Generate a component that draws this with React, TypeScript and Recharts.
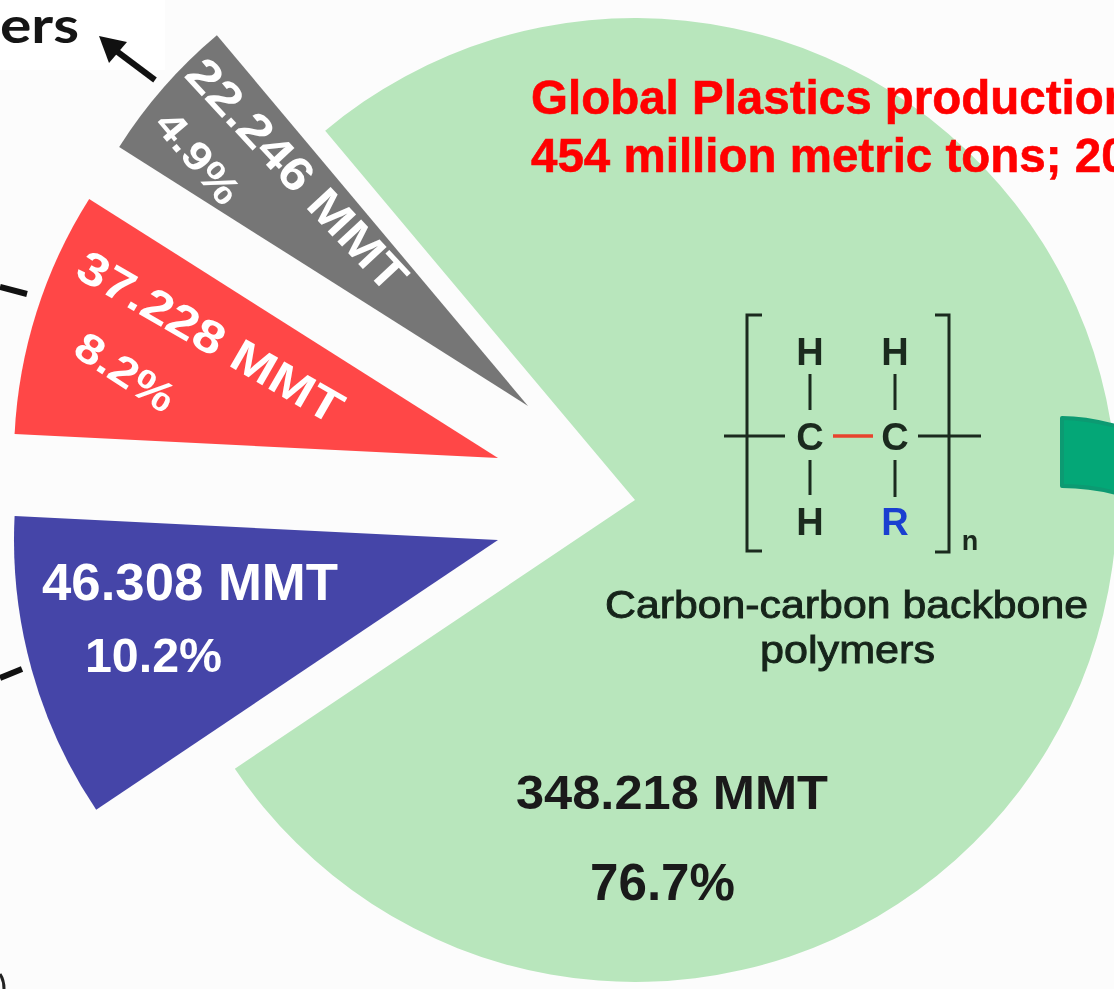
import React from "react";
import { PieChart, Pie, Cell } from "recharts";

const categories = ["Carbon-carbon backbone polymers", "Blue group", "Red group", "Gray group"];
const valuesMMT = [348.218, 46.308, 37.228, 22.246];
const valueLabels = ["348.218 MMT", "46.308 MMT", "37.228 MMT", "22.246 MMT"];
const percentLabels = ["76.7%", "10.2%", "8.2%", "4.9%"];
const colors = ["#B8E6BC", "#4545A8", "#FF4747", "#767676"];
const centers = [
  [635, 500],
  [498, 540],
  [498, 458],
  [528, 406],
];
const radii = [482, 484, 484, 484];
const titleLines = ["Global Plastics production", "454 million metric tons; 20"];

const total = valuesMMT.reduce((a, b) => a + b, 0);
const START = 130;
const sans = "'Liberation Sans', Arial, sans-serif";

let cursor = START;
const spans = valuesMMT.map((v) => {
  const s = cursor;
  cursor -= (v / total) * 360;
  return [s, cursor];
});

const Rotated = ({ x, y, a, size, len, children }: any) => (
  <text
    transform={`translate(${x} ${y}) rotate(${a})`}
    fontFamily={sans}
    fontWeight="bold"
    fontSize={size}
    fill="#FFFFFF"
    textLength={len}
    lengthAdjust="spacingAndGlyphs"
  >
    {children}
  </text>
);

const Chem = ({ x, y, children, fill = "#1B2A1E" }: any) => (
  <text x={x} y={y} textAnchor="middle" fontFamily={sans} fontWeight="bold" fontSize={38} fill={fill}>
    {children}
  </text>
);

export default function App() {
  const ink = "#1B2A1E";
  return (
    <div style={{ position: "absolute", left: 0, top: 0, width: 1114, height: 989, background: "#FCFCFC", overflow: "hidden" }}>
      <svg width={1114} height={989} style={{ position: "absolute", left: 0, top: 0 }}>
        <rect x={0} y={0} width={165} height={70} fill="#FFFFFF" />
      </svg>
      <div style={{ position: "absolute", left: 0, top: 0 }}>
        <PieChart width={1114} height={989} margin={{ top: 0, right: 0, bottom: 0, left: 0 }}>
          {valuesMMT.map((v, i) => (
            <Pie
              key={categories[i]}
              data={[{ name: categories[i], value: v }]}
              dataKey="value"
              nameKey="name"
              cx={centers[i][0]}
              cy={centers[i][1]}
              innerRadius={0}
              outerRadius={radii[i]}
              startAngle={spans[i][0]}
              endAngle={spans[i][1]}
              stroke="none"
              isAnimationActive={false}
              labelLine={false}
              label={false}
            >
              <Cell fill={colors[i]} />
            </Pie>
          ))}
        </PieChart>
      </div>
      <svg width={1114} height={989} style={{ position: "absolute", left: 0, top: 0, filter: "blur(0.5px)" }}>
        {/* cropped callouts */}
        <text x={79} y={43} textAnchor="end" fontFamily="Lato, sans-serif" fontWeight="bold" fontSize={50} fill="#151515" textLength={79} lengthAdjust="spacingAndGlyphs">ers</text>
        <line x1={155} y1={80} x2={115} y2={50} stroke="#111" strokeWidth={6} />
        <path d="M99 36 L127 42 L109 63 Z" fill="#111" />
        <line x1={0} y1={287} x2={27} y2={294} stroke="#111" strokeWidth={6} />
        <line x1={0} y1={678} x2={22} y2={669} stroke="#111" strokeWidth={6} />
        <path d="M0 974 Q4 980 4 989" fill="none" stroke="#222" strokeWidth={3} />
        <path d="M1116 426 Q1085 418 1062 418 L1062 486 Q1090 486 1116 493 Z" fill="#04A777" stroke="#0C9A72" strokeWidth={4} strokeLinejoin="round" />

        {/* title */}
        <text x={531} y={114} fontFamily={sans} fontWeight="bold" fontSize={47.5} fill="#FF0000" stroke="#FF0000" strokeWidth={0.6}>{titleLines[0]}</text>
        <text x={531} y={172} fontFamily={sans} fontWeight="bold" fontSize={47.5} fill="#FF0000" stroke="#FF0000" strokeWidth={0.6}>{titleLines[1]}</text>

        {/* slice labels */}
        <Rotated x={183} y={76} a={47} size={47} len={300}>{valueLabels[3]}</Rotated>
        <Rotated x={153} y={125} a={50} size={40} len={108}>{percentLabels[3]}</Rotated>
        <Rotated x={73} y={276} a={30} size={46} len={299}>{valueLabels[2]}</Rotated>
        <Rotated x={71} y={354} a={33} size={42} len={111}>{percentLabels[2]}</Rotated>
        <Rotated x={42} y={600} a={0} size={51} len={296}>{valueLabels[1]}</Rotated>
        <Rotated x={85} y={672} a={0} size={48} len={137}>{percentLabels[1]}</Rotated>

        <text x={516} y={809} fontFamily={sans} fontWeight="bold" fontSize={49} fill="#1A1A1A" textLength={312} lengthAdjust="spacingAndGlyphs">{valueLabels[0]}</text>
        <text x={590} y={900} fontFamily={sans} fontWeight="bold" fontSize={52} fill="#1A1A1A" textLength={145} lengthAdjust="spacingAndGlyphs">{percentLabels[0]}</text>

        {/* repeat unit */}
        <g fill="none" stroke={ink} strokeWidth={3}>
          <path d="M762 315 L747 315 L747 551 L762 551" />
          <path d="M935 315 L949 315 L949 552 L935 552" />
          <path d="M724 436 L785 436 M918 436 L981 436" />
          <path d="M810 374 L810 410 M810 460 L810 495 M895 374 L895 410 M895 460 L895 497" />
        </g>
        <line x1={833} y1={436} x2={873} y2={436} stroke="#E8432E" strokeWidth={3.5} />
        <Chem x={810} y={365}>H</Chem>
        <Chem x={895} y={365}>H</Chem>
        <Chem x={810} y={450}>C</Chem>
        <Chem x={895} y={450}>C</Chem>
        <Chem x={810} y={535}>H</Chem>
        <Chem x={895} y={535} fill="#1A3FD0">R</Chem>
        <text x={970} y={550} textAnchor="middle" fontFamily={sans} fontWeight="bold" fontSize={27} fill={ink}>n</text>

        <text x={605} y={618} fontFamily={sans} fontWeight="normal" fontSize={38} fill="#16241A" stroke="#16241A" strokeWidth={0.9} textLength={483} lengthAdjust="spacingAndGlyphs">Carbon-carbon backbone</text>
        <text x={760} y={663} fontFamily={sans} fontWeight="normal" fontSize={38} fill="#16241A" stroke="#16241A" strokeWidth={0.9} textLength={175} lengthAdjust="spacingAndGlyphs">polymers</text>
      </svg>
    </div>
  );
}
